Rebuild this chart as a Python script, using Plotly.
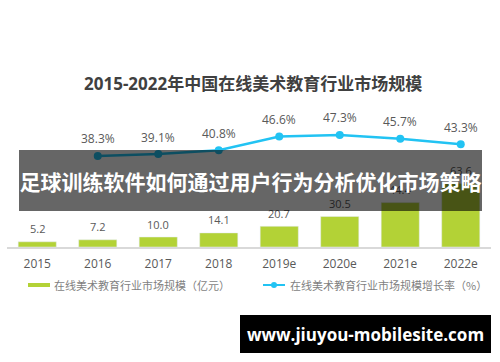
import plotly.graph_objects as go

categories = ["2015", "2016", "2017", "2018", "2019e", "2020e", "2021e", "2022e"]
market_size = [5.2, 7.2, 10.0, 14.1, 20.7, 30.5, 44.4, 63.6]
growth_cats = ["2016", "2017", "2018", "2019e", "2020e", "2021e", "2022e"]
growth_rate = [38.3, 39.1, 40.8, 46.6, 47.3, 45.7, 43.3]

title_text = "2015-2022年中国在线美术教育行业市场规模"
legend_bar = "在线美术教育行业市场规模（亿元）"
legend_line = "在线美术教育行业市场规模增长率（%）"
banner_text = "足球训练软件如何通过用户行为分析优化市场策略"
url_text = "www.jiuyou-mobilesite.com"

FONT = "Open Sans, Noto Sans CJK SC, sans-serif"
CJK = "Noto Sans CJK SC, sans-serif"
GREEN = "#b3d236"
CYAN = "#22c3f3"
GRAY = "#595959"

W, H = 500, 362
L, R, T, B = 7, 9, 40, 115
PW = W - L - R
PH = H - T - B
YB = H - B


def px(x):
    return (x - L) / PW


def py(y):
    return (YB - y) / PH


fig = go.Figure()
fig.add_trace(go.Bar(x=categories, y=market_size, marker_color=GREEN,
                     width=0.63, yaxis="y", hoverinfo="skip"))
fig.add_trace(go.Scatter(x=growth_cats, y=growth_rate, yaxis="y2",
                         mode="lines+markers",
                         line=dict(color=CYAN, width=2.5),
                         marker=dict(color=CYAN, size=8), hoverinfo="skip"))

ann = []
for c, v in zip(categories, market_size):
    ann.append(dict(x=categories.index(c), y=v, xref="x", yref="y",
                    text=f"{v:.1f}", showarrow=False, yshift=13,
                    xanchor="center", yanchor="middle",
                    font=dict(family=FONT, size=11, color=GRAY)))
for c, v in zip(growth_cats, growth_rate):
    ann.append(dict(x=categories.index(c), y=v, xref="x", yref="y2",
                    text=f"{v:.1f}%", showarrow=False, yshift=17,
                    xanchor="center", yanchor="middle",
                    font=dict(family=FONT, size=12, color=GRAY)))


def pann(x, y, text, font, xanchor="center", **kw):
    return dict(x=px(x), y=py(y), xref="paper", yref="paper", text=text,
                showarrow=False, xanchor=xanchor, yanchor="middle",
                font=font, **kw)


ann.append(pann(253, 83, f"<b>{title_text}</b>",
                dict(family=FONT, size=17, color="#404040")))
ann.append(pann(52, 285, legend_bar, dict(family=CJK, size=11, color="#7f7f7f"),
                xanchor="left"))
ann.append(pann(288, 285, legend_line, dict(family=CJK, size=11, color="#7f7f7f"),
                xanchor="left"))
ann.append(pann(250.5, 180.5, f"<b>{banner_text}</b>",
                dict(family=CJK, size=21, color="white"),
                width=463, height=61, bgcolor="rgba(0,0,0,0.6)",
                borderpad=0, borderwidth=0))
ann.append(pann(365.5, 334, f"<b>{url_text}</b>",
                dict(family=FONT, size=17, color="white"),
                width=251, height=38, bgcolor="black",
                borderpad=0, borderwidth=0))

shapes = [
    dict(type="rect", xref="paper", yref="paper", x0=px(28), x1=px(50),
         y0=py(287), y1=py(283), fillcolor=GREEN, line=dict(width=0)),
    dict(type="line", xref="paper", yref="paper", x0=px(263), x1=px(285),
         y0=py(285), y1=py(285), line=dict(color=CYAN, width=2)),
    dict(type="circle", xref="paper", yref="paper", x0=px(271), x1=px(277),
         y0=py(288), y1=py(282), fillcolor=CYAN, line=dict(width=0)),
]

fig.update_layout(
    width=W, height=H,
    margin=dict(l=L, r=R, t=T, b=B, autoexpand=False),
    paper_bgcolor="white", plot_bgcolor="white",
    showlegend=False,
    annotations=ann, shapes=shapes,
    xaxis=dict(type="category", categoryorder="array", categoryarray=categories,
               range=[-0.5, 7.5], showgrid=False, showline=True,
               linecolor="#d9d9d9", linewidth=1.5, ticks="",
               ticklabelstandoff=5,
               tickfont=dict(family=FONT, size=12, color=GRAY)),
    yaxis=dict(range=[0, PH * 1.0], visible=False, showgrid=False),
    yaxis2=dict(range=[-0.7, 88.0], overlaying="y", visible=False,
                showgrid=False),
)

fig.write_html("out.html", config={"displayModeBar": False},
               post_script="document.body.style.margin='0';document.body.style.overflow='hidden';")
